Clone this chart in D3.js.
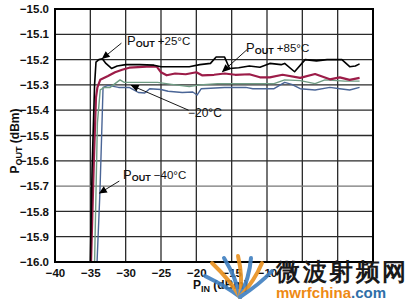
<!DOCTYPE html>
<html>
<head>
<meta charset="utf-8">
<script src="https://cdn.jsdelivr.net/npm/d3@7"></script>
<style>
  body { margin: 0; background: #fff; }
  svg text { font-family: "Liberation Sans", Arial, sans-serif; }
</style>
</head>
<body>
<div class="grafico"></div>
<script>
// valores (PIN dBm, POUT dBm)
var xTicks = [-40, -35, -30, -25, -20, -15, -10, -5, 0, 5];
var xLabels = ["\u221240", "\u221235", "\u221230", "\u221225", "\u221220", "\u221215", "\u221210", "", "", ""];
var yTicks = [-15.0, -15.1, -15.2, -15.3, -15.4, -15.5, -15.6, -15.7, -15.8, -15.9, -16.0];

var pinP25 = [-35.0, -34.75, -34.4, -34.2, -33.8, -33.3, -32.8, -32.0, -31.2, -30.0, -28, -26, -25, -23, -21, -19.5, -18, -17.2, -16, -15.3, -14, -12.5, -11, -9.6, -8, -7.5, -6.1, -4.6, -3, -1.5, 0, 0.6, 1.7, 2.5, 3.1];
var poutP25 = [-16.0, -15.63, -15.3, -15.21, -15.2, -15.197, -15.215, -15.235, -15.225, -15.22, -15.22, -15.222, -15.228, -15.228, -15.228, -15.22, -15.215, -15.19, -15.19, -15.235, -15.232, -15.225, -15.23, -15.215, -15.22, -15.215, -15.248, -15.2, -15.205, -15.2, -15.2, -15.2, -15.228, -15.225, -15.217];

var pinP85 = [-34.9, -34.5, -34.2, -34.0, -33.6, -32.5, -31.5, -30.5, -29.5, -27, -25.6, -25, -24.2, -23, -21.5, -20, -19.2, -17.5, -16, -14.5, -12.5, -11, -9.6, -7.8, -5.3, -3.2, -1.1, 0.3, 1.7, 3.1];
var poutP85 = [-16.0, -15.6, -15.35, -15.31, -15.28, -15.265, -15.25, -15.24, -15.232, -15.228, -15.228, -15.25, -15.262, -15.255, -15.258, -15.25, -15.262, -15.26, -15.255, -15.26, -15.258, -15.27, -15.27, -15.26, -15.272, -15.257, -15.278, -15.27, -15.28, -15.272];

var pinM20 = [-34.4, -34.0, -33.6, -33.0, -32.2, -31.5, -30.8, -30.2, -28, -25.5, -23.5, -21, -19.5, -17, -13, -11, -9, -7.5, -5.3, -3.2, -1.8, 1.0, 3.1];
var poutM20 = [-16.0, -15.45, -15.32, -15.31, -15.31, -15.295, -15.28, -15.29, -15.29, -15.29, -15.298, -15.307, -15.3, -15.295, -15.295, -15.295, -15.295, -15.28, -15.283, -15.295, -15.28, -15.285, -15.285];

var pinM40 = [-34.05, -33.65, -33.4, -33.2, -32.5, -31, -29.5, -28.2, -27.3, -26.6, -25, -24, -22, -20.5, -19.9, -19.3, -16, -13, -12, -9, -7.5, -6.5, -5.3, -3.2, -1.1, 0.3, 1.7, 3.1];
var poutM40 = [-16.0, -15.73, -15.5, -15.31, -15.302, -15.31, -15.31, -15.33, -15.332, -15.315, -15.318, -15.325, -15.33, -15.328, -15.34, -15.315, -15.31, -15.31, -15.315, -15.315, -15.29, -15.298, -15.315, -15.32, -15.31, -15.315, -15.32, -15.31];

var series = [
  { pin: pinM40, pout: poutM40, color: "#4a6596", w: 1.4 },
  { pin: pinM20, pout: poutM20, color: "#6f9c84", w: 1.4 },
  { pin: pinP85, pout: poutP85, color: "#9c1c48", w: 2.2 },
  { pin: pinP25, pout: poutP25, color: "#000000", w: 1.6 }
];

var ancho = 410, alto = 300;
var izq = 55, der = 373, arriba = 9, abajo = 262;

var svg = d3.select(".grafico").append("svg")
  .attr("width", ancho).attr("height", alto);

var xScale = d3.scaleLinear().domain([-40, 5]).range([izq, der]);
var yScale = d3.scaleLinear().domain([-16.0, -15.0]).range([abajo, arriba]);

// rejilla
svg.append("g").selectAll("line.v").data(xTicks).enter().append("line")
  .attr("x1", d => xScale(d)).attr("x2", d => xScale(d))
  .attr("y1", arriba).attr("y2", abajo)
  .attr("stroke", "#2a2a2a").attr("stroke-width", 1.3);
svg.append("g").selectAll("line.h").data(yTicks).enter().append("line")
  .attr("x1", izq).attr("x2", der)
  .attr("y1", d => yScale(d)).attr("y2", d => yScale(d))
  .attr("stroke", (d) => Math.abs(d + 15.7) < 0.001 ? "#777" : "#2a2a2a")
  .attr("stroke-width", 1.3);

// curvas
svg.append("clipPath").attr("id", "area").append("rect")
  .attr("x", izq).attr("y", arriba).attr("width", der - izq).attr("height", abajo - arriba);

var linea = d3.line().x(d => xScale(d[0])).y(d => yScale(d[1]));
svg.append("g").attr("clip-path", "url(#area)")
  .selectAll("path").data(series).enter().append("path")
  .attr("d", s => linea(s.pin.map((p, i) => [p, s.pout[i]])))
  .attr("fill", "none")
  .attr("stroke", s => s.color)
  .attr("stroke-width", s => s.w)
  .attr("stroke-linejoin", "round");

// marco
svg.append("rect").attr("x", izq).attr("y", arriba)
  .attr("width", der - izq).attr("height", abajo - arriba)
  .attr("fill", "none").attr("stroke", "#000").attr("stroke-width", 2);

// ejes
var yAxis = d3.axisLeft(yScale).tickValues(yTicks).tickSize(0).tickPadding(6)
  .tickFormat(d => "\u2212" + Math.abs(d).toFixed(1));
svg.append("g").attr("transform", "translate(" + izq + ",0)").call(yAxis)
  .call(g => g.select(".domain").remove())
  .selectAll("text").attr("font-size", 11.5).attr("font-weight", "bold").attr("fill", "#111");

var xAxis = d3.axisBottom(xScale).tickValues(xTicks).tickSize(0).tickPadding(7)
  .tickFormat((d, i) => xLabels[i]);
svg.append("g").attr("transform", "translate(0," + abajo + ")").call(xAxis)
  .call(g => g.select(".domain").remove())
  .selectAll("text").attr("font-size", 11.5).attr("font-weight", "bold").attr("fill", "#111");

// titulos de ejes
var tituloY = svg.append("text")
  .attr("transform", "translate(19,141) rotate(-90)")
  .attr("text-anchor", "middle").attr("font-size", 12).attr("font-weight", "bold").attr("fill", "#111");
tituloY.append("tspan").text("P");
tituloY.append("tspan").attr("font-size", 9).attr("dy", 3).text("OUT");
tituloY.append("tspan").attr("dy", -3).text(" (dBm)");

var tituloX = svg.append("text")
  .attr("x", 193).attr("y", 289)
  .attr("font-size", 12).attr("font-weight", "bold").attr("fill", "#111");
tituloX.append("tspan").text("P");
tituloX.append("tspan").attr("font-size", 9).attr("dy", 3).text("IN");
tituloX.append("tspan").attr("dy", -3).text(" (dBm)");

// anotaciones
svg.append("defs").append("marker").attr("id", "flecha")
  .attr("viewBox", "0 0 10 10").attr("refX", 9).attr("refY", 5)
  .attr("markerWidth", 10).attr("markerHeight", 8).attr("markerUnits", "userSpaceOnUse")
  .attr("orient", "auto")
  .append("path").attr("d", "M0,0.5 L10,5 L0,9.5 Z").attr("fill", "#000");

var notas = [
  { txt: "+25\u00b0C", x: 127, y: 45, from: [-30.6, -15.135], to: [-33.3, -15.196], sub: true },
  { txt: "+85\u00b0C", x: 246, y: 52, from: [-12.8, -15.16], to: [-16.3, -15.248], sub: true },
  { txt: "\u221220\u00b0C", x: 188, y: 117, from: [-21.1, -15.4], to: [-29.2, -15.302], sub: false },
  { txt: "\u221240\u00b0C", x: 123, y: 179, from: [-30.9, -15.68], to: [-33.7, -15.728], sub: true }
];
notas.forEach(function (n) {
  svg.append("line")
    .attr("x1", xScale(n.from[0])).attr("y1", yScale(n.from[1]))
    .attr("x2", xScale(n.to[0])).attr("y2", yScale(n.to[1]))
    .attr("stroke", "#000").attr("stroke-width", 0.9)
    .attr("marker-end", "url(#flecha)");
  var t = svg.append("text").attr("x", n.x).attr("y", n.y)
    .attr("font-size", 11.5).attr("fill", "#111");
  if (n.sub) {
    t.append("tspan").attr("font-size", 13).text("P");
    t.append("tspan").attr("font-size", 9).attr("font-weight", "bold").attr("dy", 2).text("OUT");
    t.append("tspan").attr("dy", -2).text(" " + n.txt);
  } else {
    t.attr("font-size", 12).text(n.txt);
  }
});

// marca de agua
var logo = svg.append("g").attr("opacity", 0.9);
var rayos = [[205, 276, "#3f7fc0"], [212, 263, "#e8901e"], [224, 258, "#3f7fc0"], [238, 256, "#e8901e"], [251, 258, "#3f7fc0"], [262, 263, "#e8901e"], [272, 271, "#3f7fc0"]];
rayos.forEach(function (r) {
  logo.append("path")
    .attr("d", "M240,297 Q" + ((r[0] + 240) / 2 + 4) + "," + ((r[1] + 297) / 2) + " " + r[0] + "," + r[1])
    .attr("fill", "none").attr("stroke", r[2]).attr("stroke-width", 4).attr("stroke-linecap", "round");
});
svg.append("text").attr("x", 276).attr("y", 280)
  .attr("font-family", "Noto Sans CJK SC").attr("font-size", 24).attr("font-weight", "bold")
  .attr("fill", "#1a1a1a").attr("textLength", 130).text("微波射频网");
var web = svg.append("text").attr("x", 276).attr("y", 298)
  .attr("font-size", 15).attr("font-weight", "bold");
web.append("tspan").attr("fill", "#ee8a14").text("mwrfchina");
web.append("tspan").attr("fill", "#2f6fa8").text(".com");
</script>
</body>
</html>
